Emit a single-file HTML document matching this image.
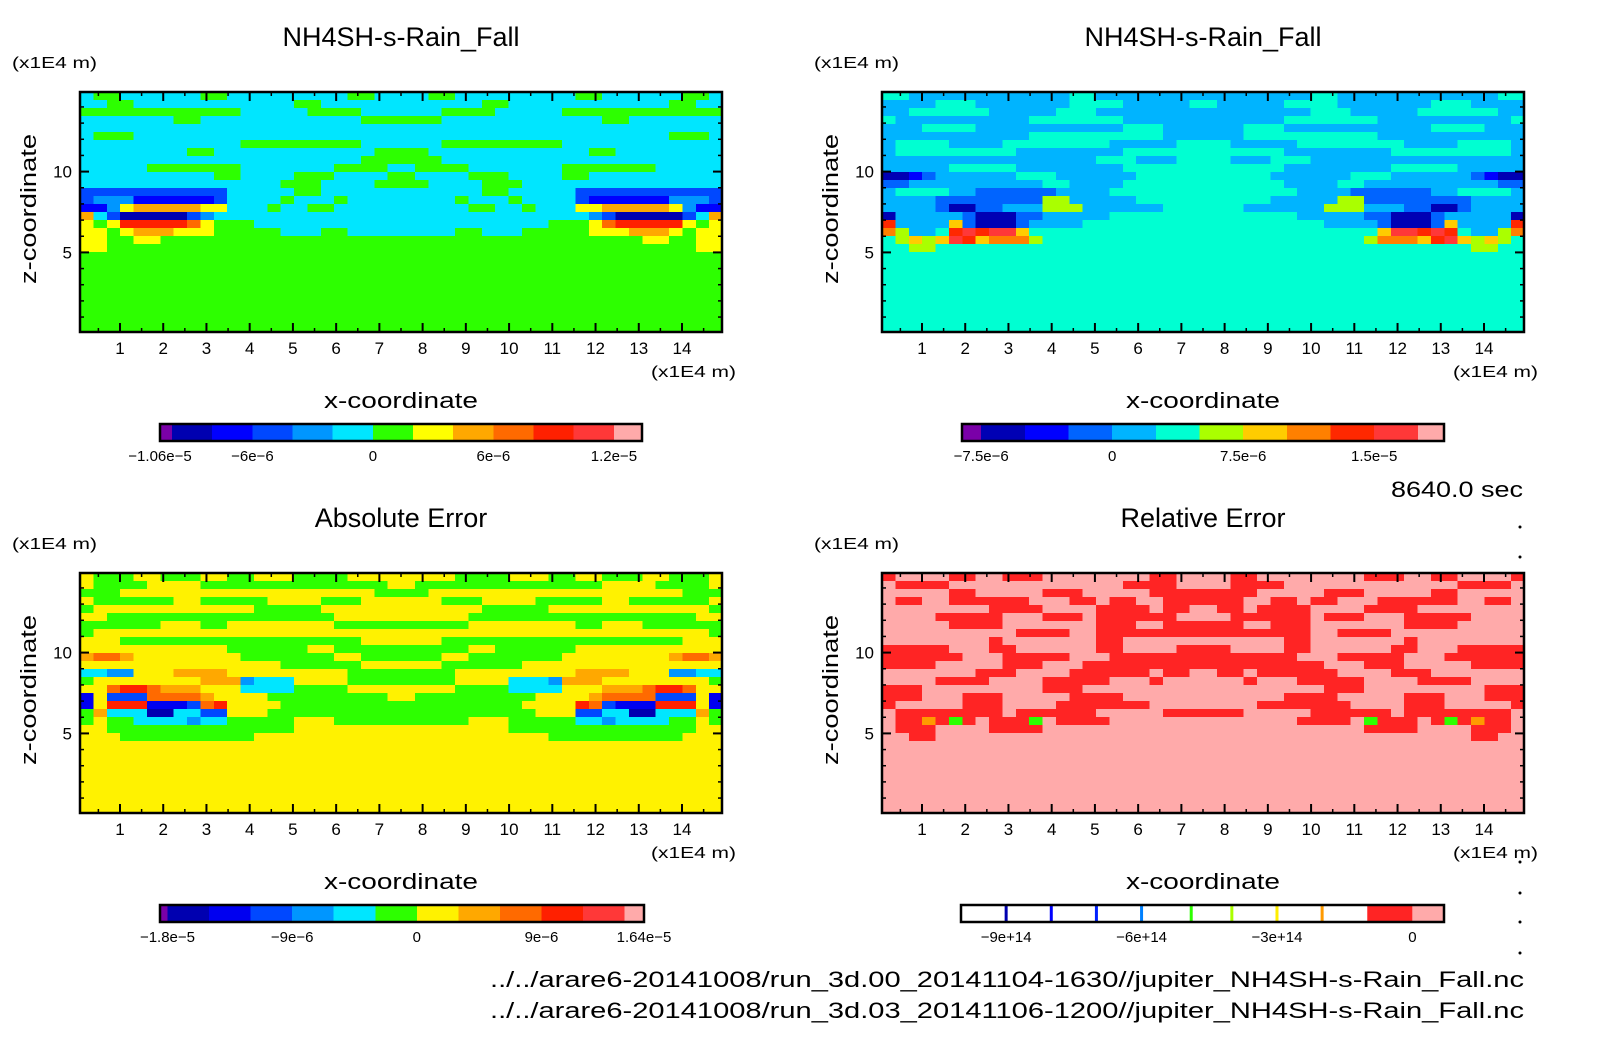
<!DOCTYPE html>
<html><head><meta charset="utf-8"><title>NH4SH-s-Rain_Fall</title>
<style>
html,body{margin:0;padding:0;background:#fff;}
svg{display:block;font-family:"Liberation Sans","DejaVu Sans",sans-serif;}
text{fill:#000;}
</style></head>
<body>
<svg id="fig" xmlns="http://www.w3.org/2000/svg" width="1604" height="1054" viewBox="0 0 1604 1054">
<rect x="0" y="0" width="1604" height="1054" fill="#fff"/>
</svg>
<script>
// ---------- data ----------
const xTickLabels = [1,2,3,4,5,6,7,8,9,10,11,12,13,14];
const xMinorTicks = [0.5,1.5,2.5,3.5,4.5,5.5,6.5,7.5,8.5,9.5,10.5,11.5,12.5,13.5,14.5];
const yTickLabels = [5,10];
const yMinorTicks = [1,2,3,4,6,7,8,9,11,12,13,14];

// contour level indices (left half; field mirrored about x=7.5), rows top->bottom
const panelARows = [
"566555555665555555556655","556655555555555566555555","666666666666555556666555","555555566555555555555666",
"555555555555555555555555","566655555555555555555555","555555555555666666666555","555555556655555555555566",
"555555555555555555555666","555556666666555555566665","555555555566555566655556","555555555555555666555566",
"333333333335555566555555","344422222235555655565555","224788888775556556655555","853111113455555555555555",
"767aaaaa9766655555555555","776788877766666555665555","776677666666666666666666","776666666666666666666666",
"666666666666666666666666","666666666666666666666666","666666666666666666666666","666666666666666666666666",
"666666666666666666666666","666666666666666666666666","666666666666666666666666","666666666666666666666666",
"666666666666666666666666","666666666666666666666666"];
const panelBRows = [
"554444444444445544444444","444455544444445555444445","445555554444455544444444","544444444445555555444444",
"444555544444444444555444","444444444445555555555444","455554444555555554444455","455555555544444444555555",
"444444444444444455544455","444445555544444444555555","112344444455544444455555","334444444444554444555555",
"455554433333344445555555","444433333333664444455555","444431133444666444444555","144444311133444445555555",
"944447311134444555555555","864459a9aa75555555555555","56767a978886555555555555","556655555555555555555555",
"555555555555555555555555","555555555555555555555555","555555555555555555555555","555555555555555555555555",
"555555555555555555555555","555555555555555555555555","555555555555555555555555","555555555555555555555555",
"555555555555555555555555","555555555555555555555555"];
const panelCRows = [
"766677666776677766667777","766667777666666666666667","666777777777777777777766","766666677666667777666777",
"677777777777766666777777","776666666666666666677777","666666777667777777766666","677777777777777777777777",
"777666666666666666666777","777777777776666667766666","899877777777666666677666","777777777777777666666777",
"554477788887777777776666","677777777888455577776666","779aa9888777555566667777","273339999877776666666667",
"27aaa22239a7777666666666","685551155337776666666666","676655554556666677766666","776666666666666677777777",
"777666666666677777777777","777777777777777777777777","777777777777777777777777","777777777777777777777777",
"777777777777777777777777","777777777777777777777777","777777777777777777777777","777777777777777777777777",
"777777777777777777777777","777777777777777777777777"];
const panelDRows = [
"100001100111000000001100","011110000000000000111100","000001100000111000001111","011001111110001101100111",
"000000001111000011110110","000011111000111011111100","000001111000000011100111","000000000011110011111111",
"000000001000000011000000","111110001100000011000011","111111000111110001111111","111100000111000111111111",
"000000011100001111110110","000011110000111110001000","111000000000111000000000","111000111000001111000000",
"100000111000011111110000","011111111011111100000111","011214101114011110000000","011100001111000000000000",
"001100000000000000000000","000000000000000000000000","000000000000000000000000","000000000000000000000000",
"000000000000000000000000","000000000000000000000000","000000000000000000000000","000000000000000000000000",
"000000000000000000000000","000000000000000000000000"];

// colourbar level boundaries (values) and labels
const cbA_bounds = [-1.06e-5,-1e-5,-8e-6,-6e-6,-4e-6,-2e-6,0,2e-6,4e-6,6e-6,8e-6,1e-5,1.2e-5,1.34e-5];
const cbA_labels = [-1.06e-5,-6e-6,0,6e-6,1.2e-5];
const cbA_labelText = ["−1.06e−5","−6e−6","0","6e−6","1.2e−5"];
const cbB_bounds = [-8.6e-6,-7.5e-6,-5e-6,-2.5e-6,0,2.5e-6,5e-6,7.5e-6,1e-5,1.25e-5,1.5e-5,1.75e-5,1.9e-5];
const cbB_labels = [-7.5e-6,0,7.5e-6,1.5e-5];
const cbB_labelText = ["−7.5e−6","0","7.5e−6","1.5e−5"];
// panel B palette starts one level later on the bar (purple segment first)
const cbC_bounds = [-1.854e-5,-1.8e-5,-1.5e-5,-1.2e-5,-9e-6,-6e-6,-3e-6,0,3e-6,6e-6,9e-6,1.2e-5,1.5e-5,1.64e-5];
const cbC_labels = [-1.8e-5,-9e-6,0,9e-6,1.64e-5];
const cbC_labelText = ["−1.8e−5","−9e−6","0","9e−6","1.64e−5"];
const cbD_min = -10e14, cbD_max = 0.7e14;
const cbD_lines = [-9e14,-8e14,-7e14,-6e14,-4.9e14,-4e14,-3e14,-2e14];
const cbD_fills = [[-1e14,0],[0,0.7e14]];
const cbD_labels = [-9e14,-6e14,-3e14,0];
const cbD_labelText = ["−9e+14","−6e+14","−3e+14","0"];

// ---------- styles ----------
const palA = ["#7a00a8","#0000b0","#0000ff","#0048ff","#0096ff","#00e6ff","#2dff00","#ffff00","#ffa800","#ff6a00","#ff2000","#ff3838","#ffaaaa"];
const palB = ["#7a00a8","#0000b4","#0000ff","#0064ff","#00b4ff","#00ffd2","#aaff00","#ffcc00","#ff8000","#ff2800","#ff3838","#ffaaaa"];
const palC = ["#7a00a8","#0000b0","#0000f0","#0048ff","#0096ff","#00e6ff","#2dff00","#fff200","#ffa800","#ff6a00","#ff2000","#ff3838","#ffaaaa"];
const palD = ["#ffaaaa","#ff2424","#ff9a00","#ffdd00","#2dff00","#00e6ff","#0000ff"];
const palDlines = ["#0000b0","#0000ff","#0020ff","#0080ff","#2dff00","#aaff00","#ffee00","#ff9a00"];

const NS = "http://www.w3.org/2000/svg";
const svg = document.getElementById("fig");
const FW = 642, FH = 240, XMIN = 0.075, XMAX = 14.925, YMIN = 0.075, YMAX = 14.925;
const panels = [
  {id:"a", fx:80,  fy:92,  rows:panelARows, pal:palA, title:"NH4SH-s-Rain_Fall"},
  {id:"b", fx:882, fy:92,  rows:panelBRows, pal:palB, title:"NH4SH-s-Rain_Fall"},
  {id:"c", fx:80,  fy:573, rows:panelCRows, pal:palC, title:"Absolute Error"},
  {id:"d", fx:882, fy:573, rows:panelDRows, pal:palD, title:"Relative Error"}
];
function mk(tag, attrs, parent){const e=document.createElementNS(NS,tag);for(const k in attrs)e.setAttribute(k,attrs[k]);(parent||svg).appendChild(e);return e;}
function xPx(p,v){return p.fx+(v-XMIN)/(XMAX-XMIN)*FW;}
function yPx(p,v){return p.fy+FH-(v-YMIN)/(YMAX-YMIN)*FH;}
function lvl(ch){return parseInt(ch,16);}

panels.forEach(p=>{
  const g = mk("g",{});
  
  
  const nR = p.rows.length, half = p.rows[0].length, nC = half*2;
  const dx=(XMAX-XMIN)/nC, dy=(YMAX-YMIN)/nR;
  p.rows.forEach((row,r)=>{
    for(let c=0;c<half;c++){
      const col = p.pal[lvl(row[c])];
      [c, nC-1-c].forEach(cc=>{
        const x0=xPx(p,XMIN+cc*dx), x1=xPx(p,XMIN+(cc+1)*dx);
        const y0=yPx(p,YMAX-r*dy), y1=yPx(p,YMAX-(r+1)*dy);
        const rc = mk("rect",{x:x0,y:y0,width:x1-x0+0.6,height:y1-y0+0.6,fill:col,"shape-rendering":"crispEdges"},g);
        
        
      });
    }
  });
  // frame
  const fr = mk("rect",{x:p.fx,y:p.fy,width:FW,height:FH,fill:"none",stroke:"#000","stroke-width":2.5});
  
  
  // ticks
  const tk = mk("g",{stroke:"#000","stroke-width":2});
  
  
  xTickLabels.forEach(v=>{const x=xPx(p,v);
    mk("line",{x1:x,x2:x,y1:p.fy+FH,y2:p.fy+FH-9},tk);mk("line",{x1:x,x2:x,y1:p.fy,y2:p.fy+9},tk);
    const t=mk("text",{x:x,y:p.fy+FH+22,"text-anchor":"middle","font-size":17});t.textContent=v;
    
    
  });
  xMinorTicks.forEach(v=>{const x=xPx(p,v);
    mk("line",{x1:x,x2:x,y1:p.fy+FH,y2:p.fy+FH-4,"stroke-width":1.5},tk);mk("line",{x1:x,x2:x,y1:p.fy,y2:p.fy+4,"stroke-width":1.5},tk);});
  yTickLabels.forEach(v=>{const y=yPx(p,v);
    mk("line",{x1:p.fx,x2:p.fx+9,y1:y,y2:y},tk);mk("line",{x1:p.fx+FW,x2:p.fx+FW-9,y1:y,y2:y},tk);
    const t=mk("text",{x:p.fx-8,y:y+6,"text-anchor":"end","font-size":17});t.textContent=v;
    
    
  });
  yMinorTicks.forEach(v=>{const y=yPx(p,v);
    mk("line",{x1:p.fx,x2:p.fx+4,y1:y,y2:y,"stroke-width":1.5},tk);mk("line",{x1:p.fx+FW,x2:p.fx+FW-4,y1:y,y2:y,"stroke-width":1.5},tk);});
  // labels
  const cx = p.fx+FW/2;
  const ti=mk("text",{x:cx,y:p.fy-46,"text-anchor":"middle","font-size":27});ti.textContent=p.title;
  
  
  const yu=mk("text",{x:p.fx-68,y:p.fy-24,"font-size":16,textLength:85,lengthAdjust:"spacingAndGlyphs"});yu.textContent="(x1E4 m)";
  
  
  const xu=mk("text",{x:p.fx+FW+14,y:p.fy+FH+45,"text-anchor":"end","font-size":16,textLength:85,lengthAdjust:"spacingAndGlyphs"});xu.textContent="(x1E4 m)";
  
  
  const xt=mk("text",{x:cx,y:p.fy+FH+76,"text-anchor":"middle","font-size":22,textLength:154,lengthAdjust:"spacingAndGlyphs"});xt.textContent="x-coordinate";
  
  
  const yc=p.fy+FH/2-3;
  const yt=mk("text",{x:0,y:0,"text-anchor":"middle","font-size":22,textLength:150,lengthAdjust:"spacingAndGlyphs",transform:`translate(${p.fx-44},${yc}) rotate(-90)`});yt.textContent="z-coordinate";
  
  
});

// ---------- colourbars ----------
function colorbar(name, x0, y0, w, h, bounds, pal, palOffset, labels, labelText){
  const g=mk("g",{});
  
  
  const vmin=bounds[0], vmax=bounds[bounds.length-1];
  const sx=v=>x0+(v-vmin)/(vmax-vmin)*w;
  for(let i=0;i<bounds.length-1;i++){
    const r=mk("rect",{x:sx(bounds[i]),y:y0,width:sx(bounds[i+1])-sx(bounds[i])+0.5,height:h,fill:pal[i+palOffset],"shape-rendering":"crispEdges"},g);
    
    
  }
  mk("rect",{x:x0,y:y0,width:w,height:h,fill:"none",stroke:"#000","stroke-width":2.5},g);
  labels.forEach((v,i)=>{const t=mk("text",{x:sx(v),y:y0+h+20,"text-anchor":"middle","font-size":15},g);t.textContent=labelText[i];
    
    });
}
colorbar("colorbar-a",160,424,482,17,cbA_bounds,palA,0,cbA_labels,cbA_labelText);
colorbar("colorbar-b",962,424,482,17,cbB_bounds,palB,0,cbB_labels,cbB_labelText);
colorbar("colorbar-c",160,905,484,17,cbC_bounds,palC,0,cbC_labels,cbC_labelText);
(function(){
  const g=mk("g",{});
  
  
  const x0=961,y0=905,w=483,h=17;
  const sx=v=>x0+(v-cbD_min)/(cbD_max-cbD_min)*w;
  mk("rect",{x:x0,y:y0,width:w,height:h,fill:"#fff"},g);
  cbD_lines.forEach((v,i)=>{const l=mk("rect",{x:sx(v)-1.5,y:y0,width:3,height:h,fill:palDlines[i]},g);
    
    });
  cbD_fills.forEach((f,i)=>{const r=mk("rect",{x:sx(f[0]),y:y0,width:sx(f[1])-sx(f[0]),height:h,fill:palD[1-i]},g);
    
    });
  mk("rect",{x:x0,y:y0,width:w,height:h,fill:"none",stroke:"#000","stroke-width":2.5},g);
  cbD_labels.forEach((v,i)=>{const t=mk("text",{x:sx(v),y:y0+h+20,"text-anchor":"middle","font-size":15},g);t.textContent=cbD_labelText[i];
    
    });
})();

// ---------- annotations ----------
const tm=mk("text",{x:1523,y:497,"text-anchor":"end","font-size":22,textLength:132,lengthAdjust:"spacingAndGlyphs"});tm.textContent="8640.0 sec";


const f1=mk("text",{x:1524,y:987,"text-anchor":"end","font-size":22,textLength:1034,lengthAdjust:"spacingAndGlyphs"});f1.textContent="../../arare6-20141008/run_3d.00_20141104-1630//jupiter_NH4SH-s-Rain_Fall.nc";


const f2=mk("text",{x:1524,y:1018,"text-anchor":"end","font-size":22,textLength:1034,lengthAdjust:"spacingAndGlyphs"});f2.textContent="../../arare6-20141008/run_3d.03_20141106-1200//jupiter_NH4SH-s-Rain_Fall.nc";


[527,557,862,893,922,953].forEach(y=>{const d=mk("circle",{cx:1520,cy:y,r:1.5,fill:"#000"});
  
  });
</script>
</body></html>
